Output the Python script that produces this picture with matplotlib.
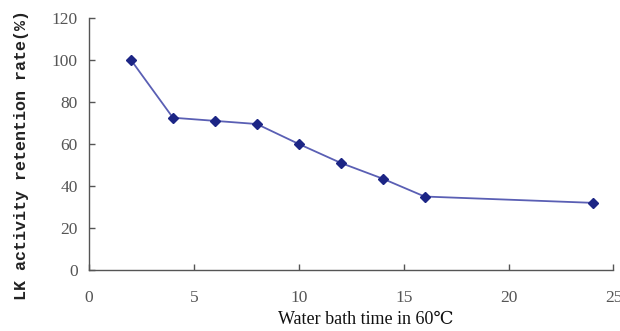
import matplotlib
matplotlib.use('Agg')
import matplotlib.pyplot as plt

# water bath time (h) and LK activity retention rate (%)
time_h = [2, 4, 6, 8, 10, 12, 14, 16, 24]
retention = [100, 72.5, 71, 69.5, 60, 51, 43.5, 35, 32]

x_ticks = [0, 5, 10, 15, 20, 25]
y_ticks = [0, 20, 40, 60, 80, 100, 120]

fig = plt.figure(figsize=(6.2, 3.31), dpi=100)
ax = fig.add_axes([0.1435, 0.184, 0.846, 0.762])

ax.plot(time_h, retention, '-', color='#5a5fb4', linewidth=1.3, zorder=2)
ax.plot(time_h, retention, 'D', color='#1c2585', markersize=5.5, zorder=3)

ax.set_xlim(0, 25)
ax.set_ylim(0, 120)
ax.set_xticks(x_ticks)
ax.set_yticks(y_ticks)

for side in ['top', 'right']:
    ax.spines[side].set_visible(False)
for side in ['left', 'bottom']:
    ax.spines[side].set_color('#555555')
    ax.spines[side].set_linewidth(1.0)

ax.tick_params(direction='in', length=4, width=1, color='#555555',
               labelcolor='#555555', labelsize=12.5)
ax.tick_params(axis='x', pad=14)
ax.tick_params(axis='y', pad=8)
for lab in ax.get_xticklabels() + ax.get_yticklabels():
    lab.set_family('Liberation Serif')

fig.text(22 / 620, 1 - 155 / 331, 'LK activity retention rate(%)',
         family='Liberation Mono', fontweight='bold', fontsize=12,
         color='#222222', rotation=90, ha='center', va='center')
fig.text(366 / 620, 1 - 319 / 331, 'Water bath time in 60\u2103',
         family=['Liberation Serif', 'DejaVu Serif'], fontsize=13,
         color='#111111', ha='center', va='center')

fig.savefig('out.png', dpi=100)
